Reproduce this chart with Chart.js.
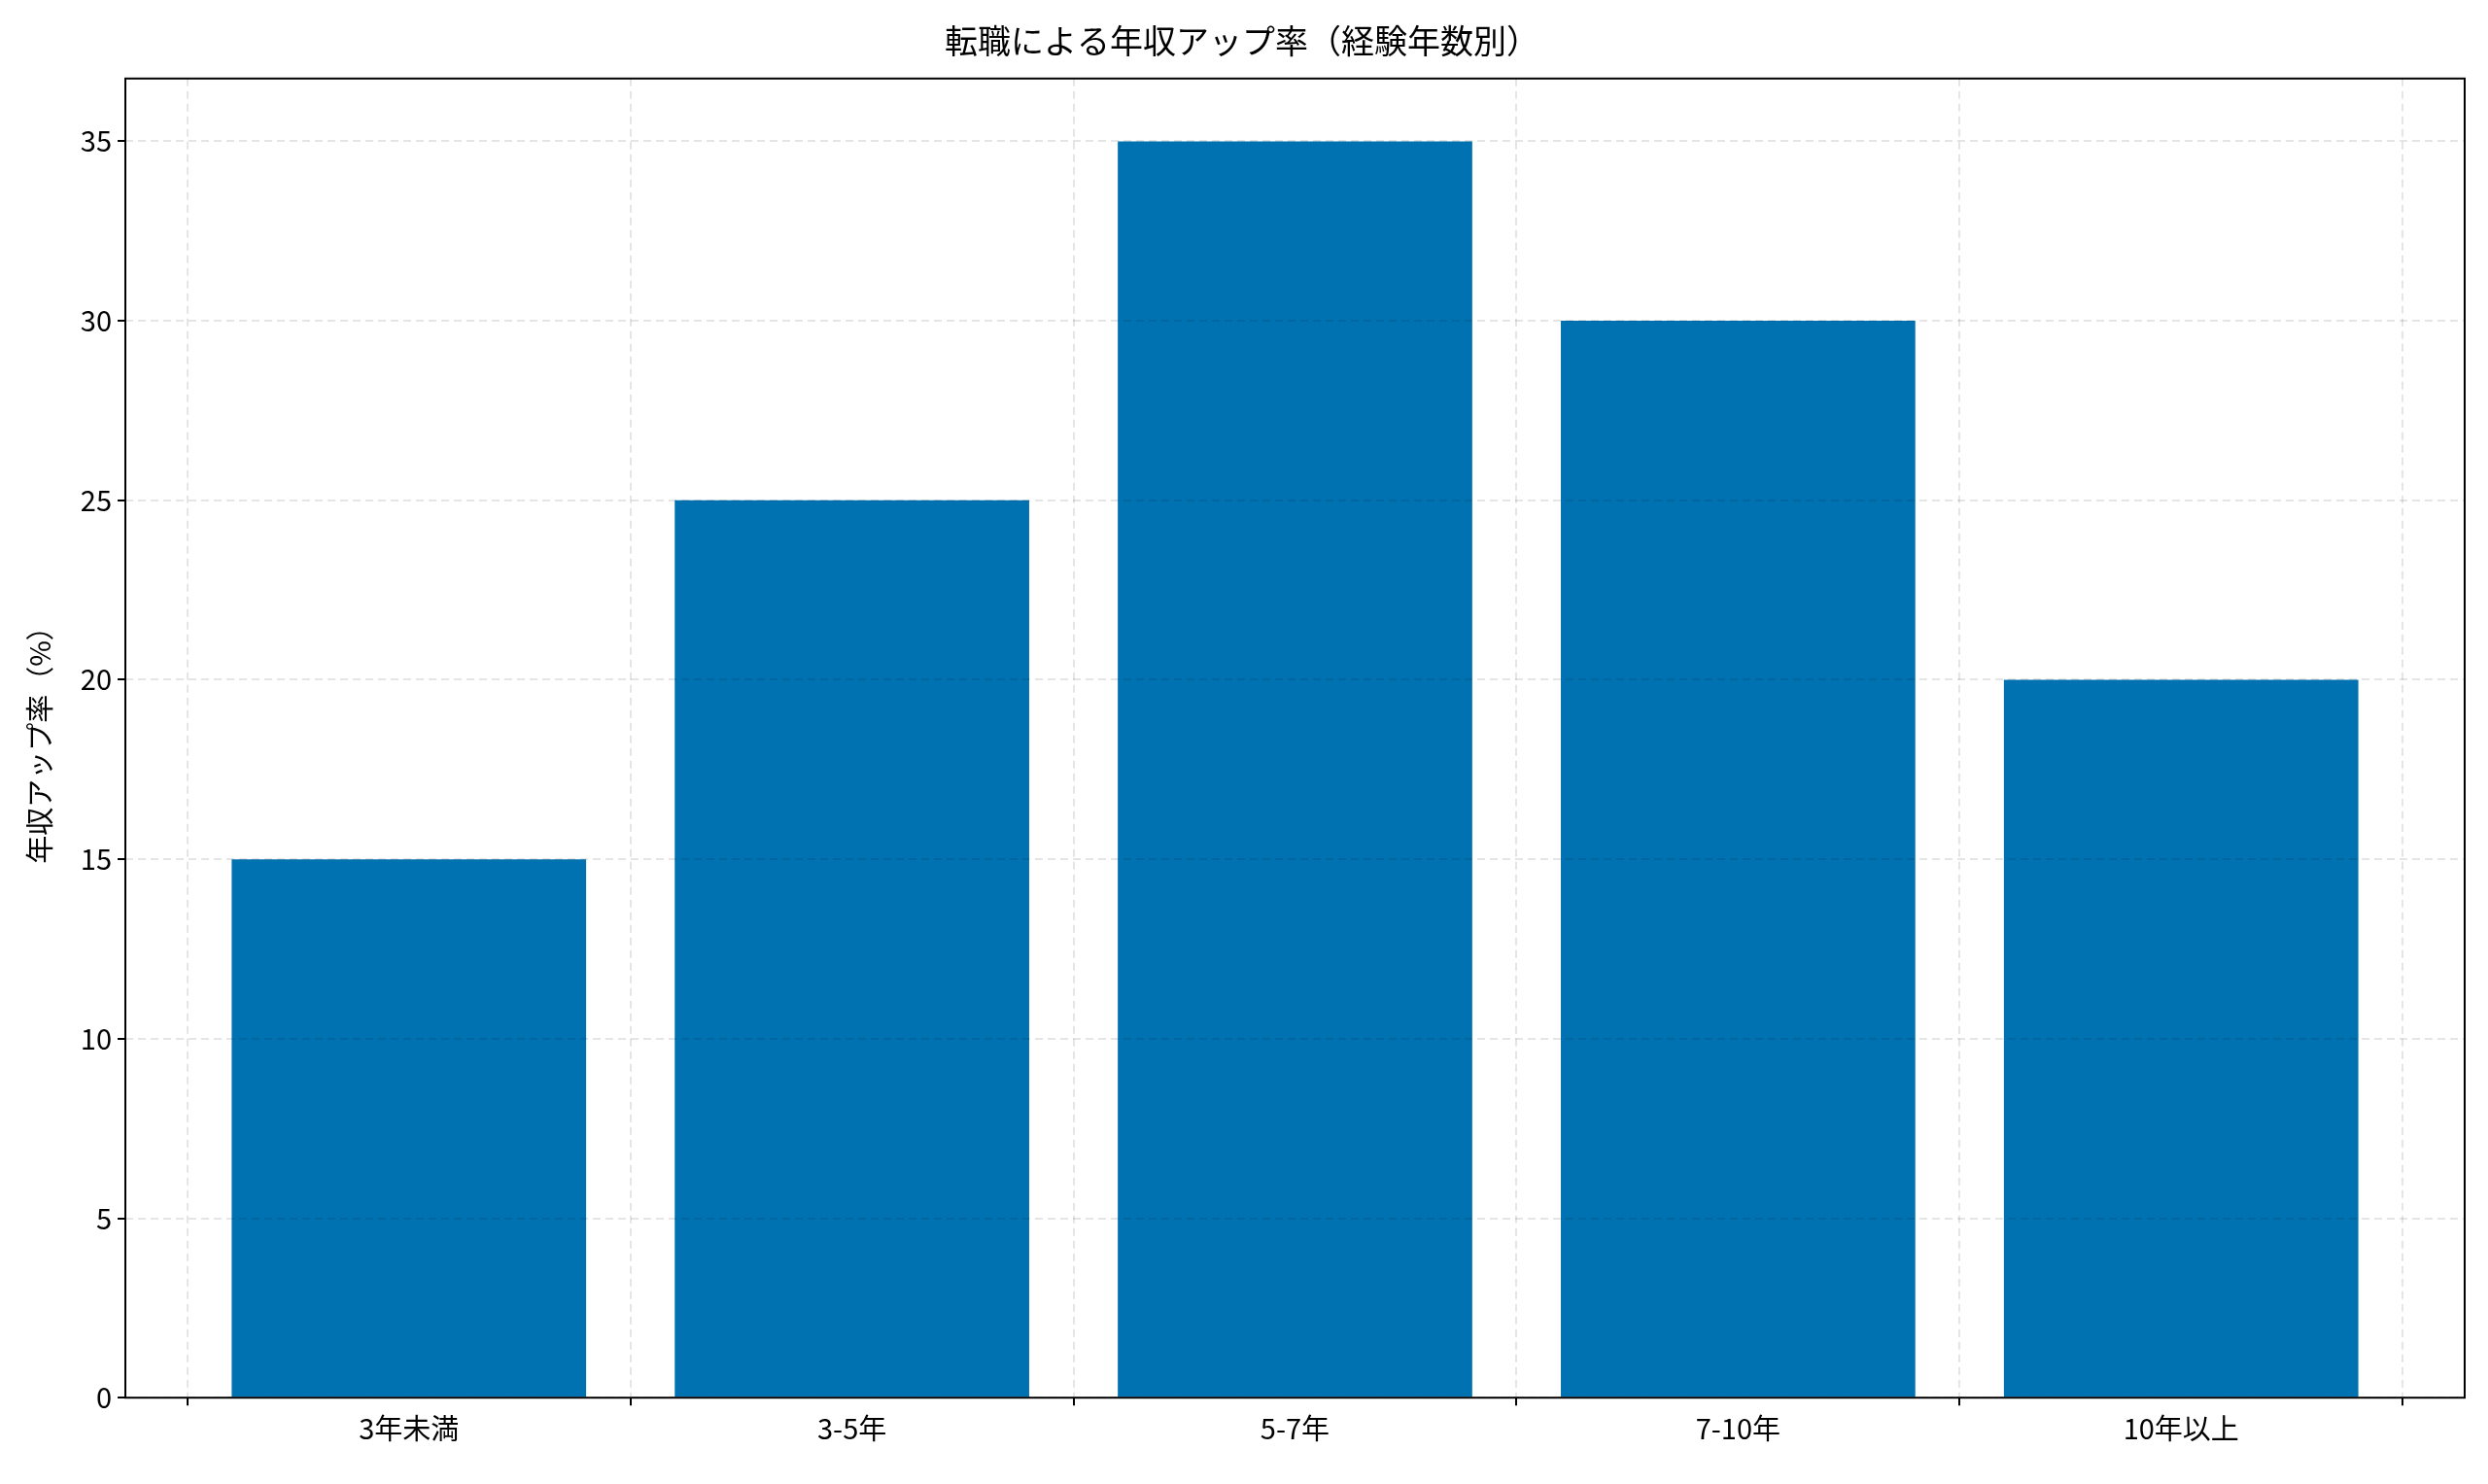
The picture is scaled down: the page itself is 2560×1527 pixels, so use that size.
<!DOCTYPE html>
<html>
<head>
<meta charset="utf-8">
<script src="https://cdn.jsdelivr.net/npm/chart.js@4/dist/chart.umd.min.js"></script>
<style>
  html, body { margin: 0; padding: 0; background: #fff; }
  #wrap { width: 2560px; height: 1527px; }
</style>
</head>
<body>
<div id="wrap"><canvas id="chart"></canvas></div>
<script>
// データ
const categories = ['3年未満', '3-5年', '5-7年', '7-10年', '10年以上'];
const raiseRates = [15, 25, 35, 30, 20];
const yTicks = [0, 5, 10, 15, 20, 25, 30, 35];

const FONT = '"Noto Sans CJK JP", "Noto Sans", sans-serif';

// 枠線（上・右も含む）
const frame = {
    id: 'frame',
    afterDraw(chart) {
        const a = chart.chartArea;
        const ctx = chart.ctx;
        ctx.save();
        ctx.strokeStyle = '#000';
        ctx.lineWidth = 2;
        ctx.strokeRect(a.left, a.top, a.right - a.left, a.bottom - a.top);
        ctx.restore();
    }
};

new Chart(document.getElementById('chart'), {
    type: 'bar',
    data: {
        datasets: [{
            data: raiseRates.map((v, i) => ({ x: i, y: v })),
            backgroundColor: '#0072b2',
            categoryPercentage: 1.0,
            barPercentage: 0.8
        }]
    },
    options: {
        responsive: true,
        maintainAspectRatio: false,
        devicePixelRatio: 1,
        animation: false,
        layout: { padding: { left: 20, right: 24, top: 4, bottom: 34 } },
        plugins: {
            legend: { display: false },
            tooltip: { enabled: false },
            title: {
                display: true,
                text: '転職による年収アップ率（経験年数別）',
                color: '#000',
                font: { family: FONT, size: 34, weight: 'normal' },
                padding: { top: 18, bottom: 18 }
            }
        },
        scales: {
            x: {
                type: 'linear',
                min: -0.64,
                max: 4.64,
                offset: false,
                afterBuildTicks(scale) { scale.ticks = categories.map((c, i) => ({ value: i })); },
                grid: { color: 'rgba(0,0,0,0.1)', lineWidth: 2, z: 1, tickLength: 8, tickColor: '#000' },
                border: { display: false, dash: [8, 5] },
                ticks: {
                    color: '#000', font: { family: FONT, size: 29 }, padding: 6,
                    callback: v => categories[v]
                }
            },
            y: {
                min: 0,
                max: 36.75,
                afterBuildTicks(scale) { scale.ticks = yTicks.map(v => ({ value: v })); },
                grid: { color: 'rgba(0,0,0,0.1)', lineWidth: 2, z: 1, tickLength: 8, tickColor: '#000' },
                border: { display: false, dash: [8, 5] },
                ticks: { color: '#000', font: { family: FONT, size: 29 }, padding: 6 },
                title: {
                    display: true,
                    text: '年収アップ率（%）',
                    color: '#000',
                    font: { family: FONT, size: 29 },
                    padding: { bottom: 18 }
                }
            }
        }
    },
    plugins: [frame]
});
</script>
</body>
</html>
